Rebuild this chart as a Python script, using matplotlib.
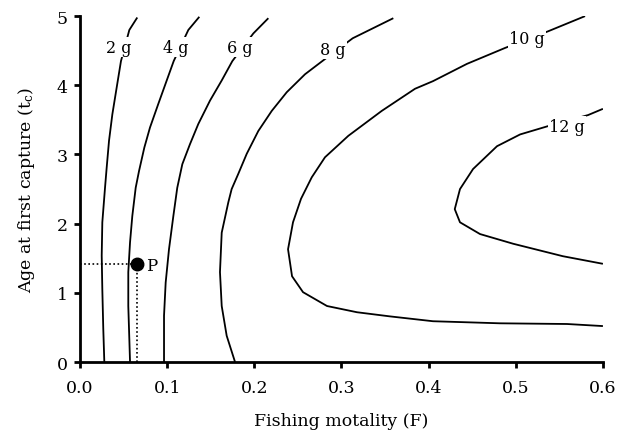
import numpy as np
import matplotlib.pyplot as plt

# contour lines of yield per recruit: (F, tc)
yield_levels = ['2 g', '4 g', '6 g', '8 g', '10 g', '12 g']

c2_F  = [0.0657, 0.0566, 0.0470, 0.0421, 0.0371, 0.0333, 0.0306, 0.0287,
         0.0256, 0.0249, 0.0256, 0.0267, 0.0279]
c2_tc = [4.98, 4.80, 4.35, 3.97, 3.58, 3.20, 2.81, 2.52,
         2.02, 1.54, 1.05, 0.48, 0.0]

c4_F  = [0.1369, 0.1243, 0.1075, 0.0995, 0.0898, 0.0803, 0.0738, 0.0677,
         0.0639, 0.0600, 0.0574, 0.0554, 0.0554, 0.0566, 0.0574]
c4_tc = [4.99, 4.80, 4.35, 4.07, 3.73, 3.39, 3.10, 2.76,
         2.52, 2.11, 1.73, 1.30, 0.81, 0.33, 0.0]

c6_F  = [0.2161, 0.1989, 0.1748, 0.1626, 0.1492, 0.1357, 0.1262, 0.1174,
         0.1116, 0.1071, 0.1021, 0.0983, 0.0964, 0.0964]
c6_tc = [4.97, 4.75, 4.35, 4.07, 3.78, 3.44, 3.15, 2.86,
         2.52, 2.11, 1.63, 1.15, 0.67, 0.0]

c8_F  = [0.3595, 0.3129, 0.278, 0.2582, 0.2372, 0.220, 0.2046, 0.1913, 0.1816,
         0.174, 0.1702, 0.1626, 0.1606, 0.1626, 0.1683, 0.1779]
c8_tc = [4.97, 4.68, 4.35, 4.16, 3.90, 3.63, 3.34, 3.01, 2.72,
         2.50, 2.31, 1.87, 1.30, 0.81, 0.38, 0.0]

c10_F  = [0.5795, 0.537, 0.4877, 0.444, 0.405, 0.3844, 0.3462, 0.3079, 0.2811,
          0.2659, 0.2536, 0.2444, 0.2387, 0.2433, 0.2559, 0.2834, 0.3178,
          0.3557, 0.405, 0.4819, 0.5588, 0.600]
c10_tc = [5.0, 4.78, 4.54, 4.31, 4.06, 3.95, 3.63, 3.27, 2.96,
          2.67, 2.36, 2.02, 1.63, 1.24, 1.01, 0.81, 0.72,
          0.66, 0.59, 0.56, 0.55, 0.52]

c12_F  = [0.600, 0.583, 0.537, 0.505, 0.4785, 0.451, 0.436, 0.430, 0.436, 0.459,
          0.497, 0.554, 0.600]
c12_tc = [3.66, 3.57, 3.41, 3.29, 3.12, 2.79, 2.50, 2.21, 2.02, 1.85,
          1.71, 1.53, 1.42]

# where the labels sit on the lines
label_F  = [0.0448, 0.110, 0.1836, 0.290, 0.513, 0.559]
label_tc = [4.55, 4.55, 4.55, 4.52, 4.68, 3.41]

# point P
P_F, P_tc = 0.0654, 1.42

plt.rcParams['font.family'] = 'DejaVu Serif'
plt.rcParams['mathtext.fontset'] = 'dejavuserif'

fig = plt.figure(figsize=(6.3, 4.39), dpi=100)
ax = fig.add_axes([0.127, 0.173, 0.83, 0.788])

contours = [(c2_F, c2_tc), (c4_F, c4_tc), (c6_F, c6_tc),
            (c8_F, c8_tc), (c10_F, c10_tc), (c12_F, c12_tc)]
for (cf, ct), lab, lf, lt in zip(contours, yield_levels, label_F, label_tc):
    ax.plot(cf, ct, color='black', lw=1.3, solid_capstyle='butt',
            solid_joinstyle='round')
    ax.text(lf, lt, lab, fontsize=11.5, ha='center', va='center', zorder=5,
            bbox=dict(facecolor='white', edgecolor='none', pad=1.0))

# dotted guide lines to P
ax.plot([0, P_F], [P_tc, P_tc], color='black', lw=1.2, ls=(0, (1, 1.5)))
ax.plot([P_F, P_F], [0, P_tc], color='black', lw=1.2, ls=(0, (1, 1.5)))
ax.plot(P_F, P_tc, 'o', color='black', ms=9, zorder=6)
ax.text(P_F + 0.01, P_tc - 0.02, 'P', fontsize=12, ha='left', va='center')

ax.set_xlim(0, 0.6)
ax.set_ylim(0, 5)
ax.set_xticks(np.arange(0, 0.61, 0.1))
ax.set_xticklabels(['0.0', '0.1', '0.2', '0.3', '0.4', '0.5', '0.6'])
ax.set_yticks(range(6))

ax.spines['top'].set_visible(False)
ax.spines['right'].set_visible(False)
ax.spines['left'].set_linewidth(2)
ax.spines['bottom'].set_linewidth(2)
ax.tick_params(width=2, length=4, labelsize=12.5)
ax.tick_params(axis='x', pad=8)
ax.tick_params(axis='y', pad=5)

ax.set_xlabel('Fishing motality (F)', fontsize=12.5, labelpad=12)
ax.set_ylabel(r'Age at first capture (t$_{\rm c}$)', fontsize=12.5, labelpad=14)

plt.savefig('out.png', dpi=100)
